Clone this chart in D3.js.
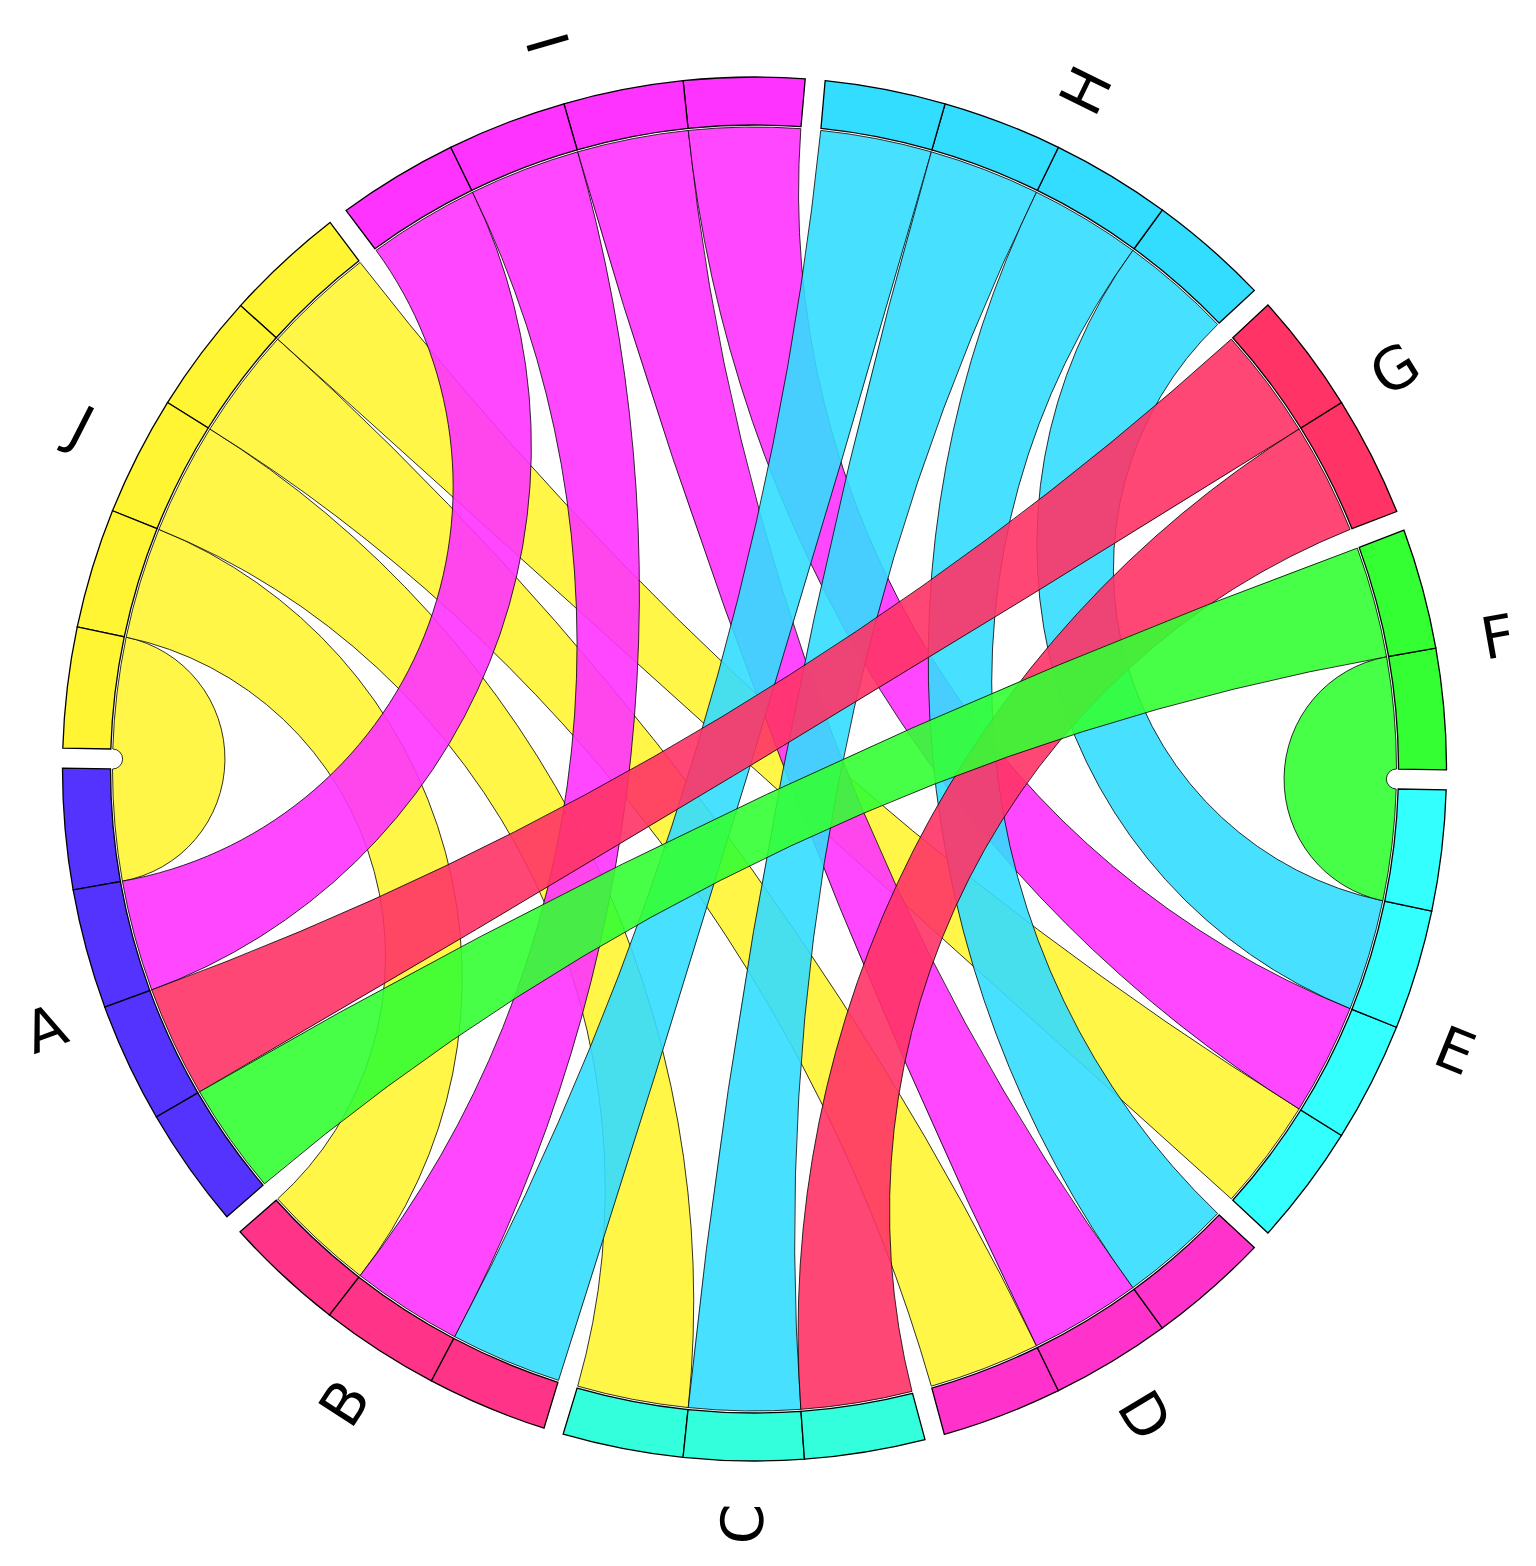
<!DOCTYPE html>
<html>
<head>
<meta charset="utf-8">
<script src="https://cdn.jsdelivr.net/npm/d3@7"></script>
<style>
  html, body { margin: 0; padding: 0; background: #ffffff; }
  svg { display: block; }
</style>
</head>
<body>
<svg id="chart" width="1536" height="1566"></svg>
<script>
// ---------------- data ----------------
const groups = ["A", "B", "C", "D", "E", "F", "G", "H", "I", "J"];
const groupColors = ["#5533ff", "#ff3388", "#33ffdd", "#ff33cc", "#33ffff",
                     "#33ff33", "#ff3366", "#33ddff", "#ff33ff", "#fff533"];
const linkSource = ["J", "J", "J", "J", "J", "I", "I", "I", "I", "H", "H", "H", "H", "G", "G", "F", "F"];
const linkTarget = ["A", "B", "C", "D", "E", "A", "B", "D", "E", "B", "C", "D", "E", "A", "C", "A", "E"];
const linkValue  = [1, 1, 1, 1, 1, 1, 1, 1, 1, 1, 1, 1, 1, 1, 1, 1, 1];

// ---------------- layout ----------------
const W = 1536, H = 1566;
const cx = 754.5, cy = 769;
const rChord = 642, rIn = 644, rOut = 692;
const halfGap = 10;                 // half of gap width in px
const gapAng = 2 * Math.asin(halfGap / rChord);
const startAng = 1.5 * Math.PI;     // A starts at 9 o'clock, layout goes counter-clockwise

const n = groups.length;
const idx = Object.fromEntries(groups.map((g, i) => [g, i]));
const links = linkSource.map((s, i) => ({ s: idx[s], t: idx[linkTarget[i]], v: linkValue[i] }));

// partner lists per group
const partners = groups.map(() => []);
links.forEach((l, li) => {
  partners[l.s].push({ other: l.t, v: l.v, li });
  partners[l.t].push({ other: l.s, v: l.v, li });
});
partners.forEach(p => p.sort((a, b) => b.other - a.other));

const totalVal = d3.sum(links, l => 2 * l.v);
const angScale = d3.scaleLinear().domain([0, totalVal]).range([0, 2 * Math.PI - n * gapAng]);

const ends = links.map(() => ({}));     // ends[li][groupIndex] = [lo, hi]
const groupInfo = [];
let a = startAng;
groups.forEach((g, gi) => {
  const hi = a;
  const segs = [];
  partners[gi].forEach(p => {
    const w = angScale(p.v);
    const seg = { lo: a - w, hi: a, li: p.li, other: p.other };
    ends[p.li][gi] = [seg.lo, seg.hi];
    segs.push(seg);
    a -= w;
  });
  groupInfo.push({ hi, lo: a, segs });
  a -= gapAng;
});

// ---------------- helpers ----------------
const P = (r, t) => [cx + r * Math.sin(t), cy - r * Math.cos(t)];
const fmt = p => p[0].toFixed(2) + "," + p[1].toFixed(2);

function geodesic(from, to, r) {
  // circular arc orthogonal to the circle of radius r, from angle `from` to angle `to`
  let d = (to - from) % (2 * Math.PI);
  if (d < 0) d += 2 * Math.PI;
  const end = P(r, to);
  if (Math.abs(d - Math.PI) < 1e-3) return "L" + fmt(end);
  let sweep, half;
  if (d < Math.PI) { sweep = 0; half = d / 2; } else { sweep = 1; half = (2 * Math.PI - d) / 2; }
  const rho = r * Math.tan(half);
  return "A" + rho.toFixed(2) + "," + rho.toFixed(2) + " 0 0," + sweep + " " + fmt(end);
}

function ribbonPath(s, t) {
  const r = rChord;
  const [s0, s1] = s, [t0, t1] = t;
  let p = "M" + fmt(P(r, s0));
  p += "A" + r + "," + r + " 0 0,1 " + fmt(P(r, s1));
  p += geodesic(s1, t0, r);
  p += "A" + r + "," + r + " 0 0,1 " + fmt(P(r, t1));
  p += geodesic(t1, s0, r);
  return p + "Z";
}

// edge angle at radius r: radial or parallel-padded
function edgeAngle(edge, r) {
  if (edge.type === "radial") return edge.a;
  return edge.c + edge.sign * Math.asin(halfGap / r);
}

function segPath(hiEdge, loEdge) {
  const o1 = P(rOut, edgeAngle(hiEdge, rOut)), o2 = P(rOut, edgeAngle(loEdge, rOut));
  const i2 = P(rIn, edgeAngle(loEdge, rIn)), i1 = P(rIn, edgeAngle(hiEdge, rIn));
  return "M" + fmt(o1) + "A" + rOut + "," + rOut + " 0 0,0 " + fmt(o2) +
         "L" + fmt(i2) + "A" + rIn + "," + rIn + " 0 0,1 " + fmt(i1) + "Z";
}

// ---------------- drawing ----------------
const svg = d3.select("#chart");
svg.append("rect").attr("width", W).attr("height", H).attr("fill", "#ffffff");

const color = d3.scaleOrdinal().domain(groups).range(groupColors);

// chords (coloured by the higher-index group), drawn J first ... F last
const order = d3.range(links.length).sort((x, y) => d3.descending(links[x].s, links[y].s) || x - y);
svg.append("g").selectAll("path")
  .data(order)
  .join("path")
  .attr("d", li => {
    const l = links[li];
    return ribbonPath(ends[li][l.t], ends[li][l.s]);
  })
  .attr("fill", li => color(groups[links[li].s]))
  .attr("fill-opacity", 0.9)
  .attr("stroke", "#000")
  .attr("stroke-width", 0.8);

// outer ring segments
const ring = svg.append("g");
groupInfo.forEach((gInfo, gi) => {
  gInfo.segs.forEach((seg, k) => {
    const hiEdge = k === 0
      ? { type: "pad", c: gInfo.hi + gapAng / 2, sign: -1 }
      : { type: "radial", a: seg.hi };
    const loEdge = k === gInfo.segs.length - 1
      ? { type: "pad", c: gInfo.lo - gapAng / 2, sign: 1 }
      : { type: "radial", a: seg.lo };
    ring.append("path")
      .attr("d", segPath(hiEdge, loEdge))
      .attr("fill", color(groups[gi]))
      .attr("stroke", "#000")
      .attr("stroke-width", 1.3);
  });
});

// labels
const rLabel = 755;
svg.append("g").selectAll("text")
  .data(groupInfo.map((g, gi) => ({ name: groups[gi], mid: (g.hi + g.lo) / 2 })))
  .join("text")
  .attr("transform", d => {
    let deg = (d.mid * 180 / Math.PI) % 360;
    if (deg < 0) deg += 360;
    const rot = deg < 180 ? deg - 90 : deg - 270;
    const [x, y] = P(rLabel, d.mid);
    return `translate(${x},${y}) rotate(${rot})`;
  })
  .attr("text-anchor", "middle")
  .attr("dominant-baseline", "central")
  .attr("font-family", "DejaVu Sans, sans-serif")
  .attr("font-size", 58)
  .attr("fill", "#000")
  .text(d => d.name);
</script>
</body>
</html>
